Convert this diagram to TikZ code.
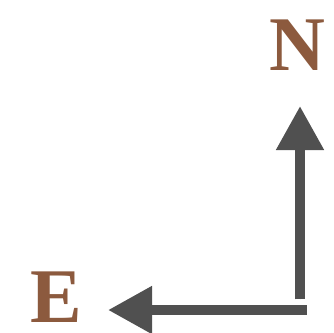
\documentclass[tikz,border=0pt]{standalone}
\usepackage{fontspec}
\setmainfont{Liberation Serif}
\usepackage{tikz}
\usetikzlibrary{arrows.meta}
\usetikzlibrary{positioning}
\definecolor{labelbrown}{RGB}{140,90,62}
\definecolor{arrowgray}{RGB}{80,80,80}

\begin{document}
\begin{tikzpicture}[
            x=0.75pt, y=-0.75pt,
            >={Triangle[length=33pt, width=34pt]},
            direction/.style={font=\fontsize{58}{58}\selectfont\bfseries, text=labelbrown, inner sep=0pt},
            pointer/.style={->, draw=arrowgray, fill=arrowgray, line width=7.5pt},
        ]

        % Page frame
        \useasboundingbox (0,0) rectangle (334,332);

        % Direction letters
        \node[direction] (north) at (297.5,45) {N};
        \node[direction] (east) at (56,297.5) {E};

        % Corner and arrow tips
        \coordinate (corner) at (300,310);
        \coordinate (northtip) at (300,106);
        \coordinate (easttip) at (108,310);

        % Arrows
        \draw[pointer] ([yshift=8pt]corner) -- (northtip);
        \draw[pointer] ([xshift=5pt]corner) -- (easttip);

        \end{tikzpicture}
\end{document}
